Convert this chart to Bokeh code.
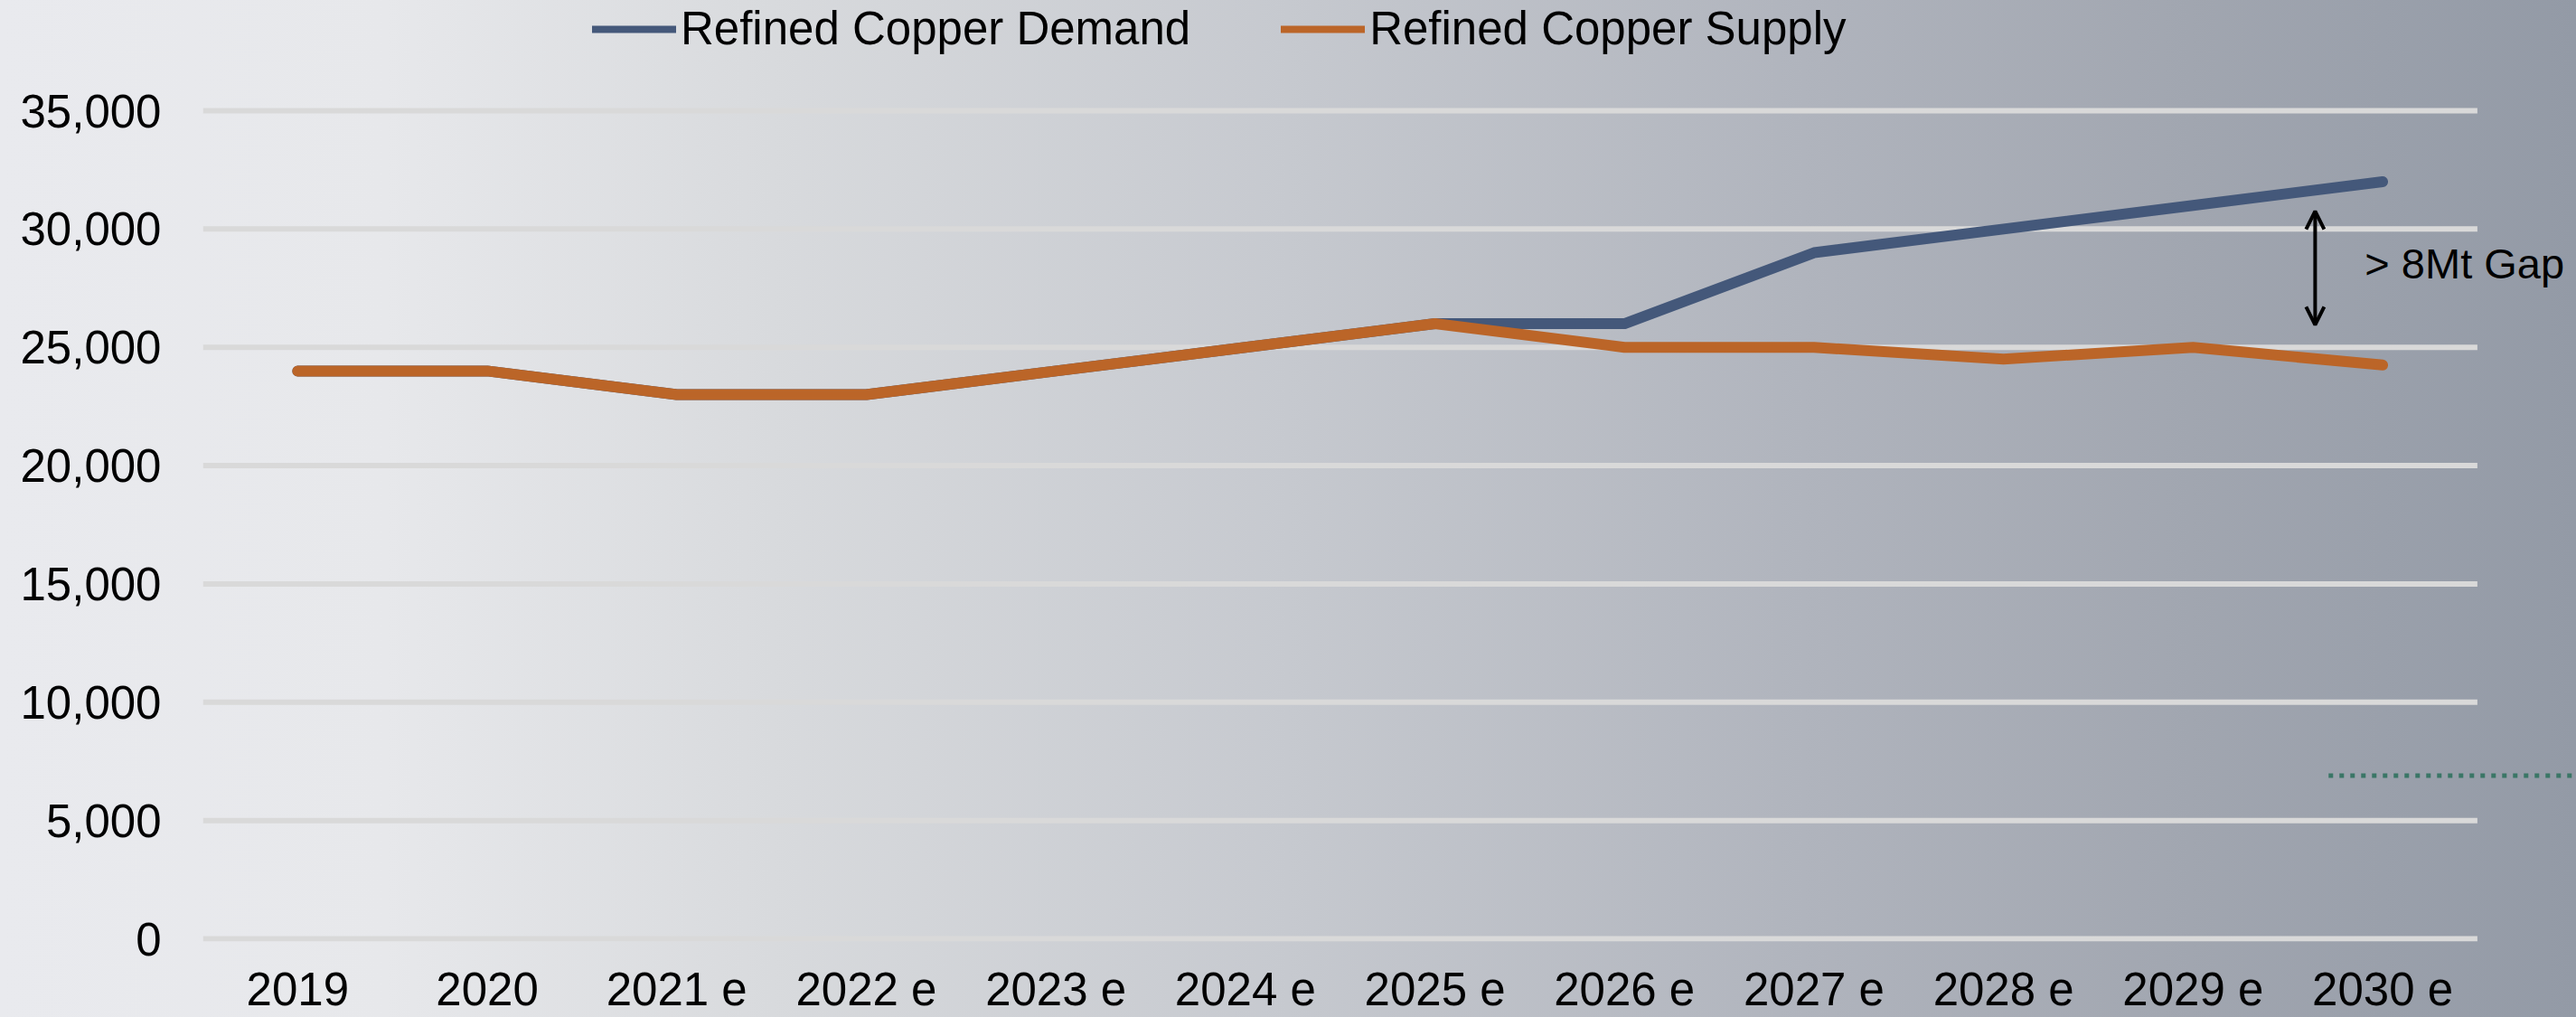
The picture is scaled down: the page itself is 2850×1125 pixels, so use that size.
from bokeh.plotting import figure
from bokeh.models import (Range1d, FixedTicker, NumeralTickFormatter, Legend, LegendItem,
                          Arrow, OpenHead, Label, ColumnDataSource)
from bokeh.embed import file_html
from bokeh.resources import INLINE

# ---- data ----
years = ["2019", "2020", "2021 e", "2022 e", "2023 e", "2024 e",
         "2025 e", "2026 e", "2027 e", "2028 e", "2029 e", "2030 e"]
demand = [24000, 24000, 23000, 23000, 24000, 25000, 26000, 26000, 29000, 30000, 31000, 32000]
supply = [24000, 24000, 23000, 23000, 24000, 25000, 26000, 25000, 25000, 24500, 25000, 24250]
y_ticks = [0, 5000, 10000, 15000, 20000, 25000, 30000, 35000]
gap_low, gap_high = 25950, 30750
gap_text = "> 8Mt Gap"
dotted_level = 6900

FONT = "Liberation Sans"
DEMAND_COLOR = "#44587a"
SUPPLY_COLOR = "#bb6528"

x = list(range(len(years)))

# ---- geometry ----
left_border = 224
frame_w = 2850 - left_border
px_per_cat = 209.7
ppu = 916 / 35000.0          # pixels per unit on y
top_space = 122              # pixels above the 35,000 line (legend lives here)
bottom_pad = 3
frame_h = top_space + 916 + bottom_pad
x_start = -0.5
x_end = x_start + frame_w / px_per_cat

p = figure(frame_width=frame_w, frame_height=frame_h,
           min_border_left=left_border, min_border_right=0, min_border_top=0, min_border_bottom=0,
           x_range=Range1d(x_start, x_end),
           y_range=Range1d(-bottom_pad / ppu, 35000 + top_space / ppu),
           output_backend="svg", toolbar_location=None)

p.styles = {"background": "linear-gradient(to right, #e9eaee 0%, #e7e8eb 15%, #d8dadd 30%, "
                          "#c6c9cf 50%, #b0b4bd 70%, #a1a6b0 85%, #939aa6 100%)"}
p.background_fill_color = None
p.border_fill_color = None
p.outline_line_color = None
p.xgrid.visible = False
p.ygrid.visible = False

# gridlines
n = len(years)
p.segment(x0=[-0.5] * len(y_ticks), x1=[n - 0.5] * len(y_ticks), y0=y_ticks, y1=y_ticks,
          line_color="#d9d9d9", line_width=6)

# dotted reference line
p.line(x=[10.715, x_end + 1], y=[dotted_level, dotted_level], line_color="#3a7666",
       line_width=5, line_dash="5 7", line_cap="butt")

src = ColumnDataSource(dict(x=x, demand=demand, supply=supply))

# thinner legend proxies, drawn underneath the main lines (hidden by them)
ld = p.line("x", "demand", source=src, line_color=DEMAND_COLOR, line_width=8, line_cap="round")
ls = p.line("x", "supply", source=src, line_color=SUPPLY_COLOR, line_width=8, line_cap="round")

p.line("x", "demand", source=src, line_color=DEMAND_COLOR, line_width=12,
       line_cap="round", line_join="round")
p.line("x", "supply", source=src, line_color=SUPPLY_COLOR, line_width=12,
       line_cap="round", line_join="round")

legend = Legend(items=[LegendItem(label="Refined Copper Demand", renderers=[ld]),
                       LegendItem(label="Refined Copper Supply", renderers=[ls])],
                orientation="horizontal", location=(431, frame_h - 61),
                padding=0, margin=0, spacing=100, glyph_width=93, glyph_height=50,
                label_standoff=5, label_text_font=FONT, label_text_font_size="51px",
                label_text_color="#000000", border_line_color=None,
                background_fill_alpha=0)
p.add_layout(legend, "center")

# arrow and annotation
p.add_layout(Arrow(x_start=10.644, x_end=10.644, y_start=gap_low, y_end=gap_high,
                   start=OpenHead(size=20, line_width=4, line_color="black"),
                   end=OpenHead(size=20, line_width=4, line_color="black"),
                   line_width=4, line_color="black"))
p.add_layout(Label(x=10.906, y=28550, text=gap_text, text_font=FONT, text_font_size="47px",
                   text_baseline="middle", text_align="left", text_color="#000000"))

# axes
p.yaxis.ticker = FixedTicker(ticks=y_ticks)
p.yaxis.formatter = NumeralTickFormatter(format="0,0")
p.xaxis.ticker = FixedTicker(ticks=x)
p.xaxis.major_label_overrides = {i: years[i] for i in x}
for ax in (p.xaxis[0], p.yaxis[0]):
    ax.axis_line_color = None
    ax.major_tick_line_color = None
    ax.minor_tick_line_color = None
    ax.major_tick_out = 0
    ax.major_tick_in = 0
    ax.minor_tick_out = 0
    ax.major_label_text_font = FONT
    ax.major_label_text_font_size = "51px"
    ax.major_label_text_color = "#000000"
p.yaxis.major_label_standoff = 46
p.xaxis.major_label_standoff = 24

open("out.html", "w").write(file_html(p, INLINE))
